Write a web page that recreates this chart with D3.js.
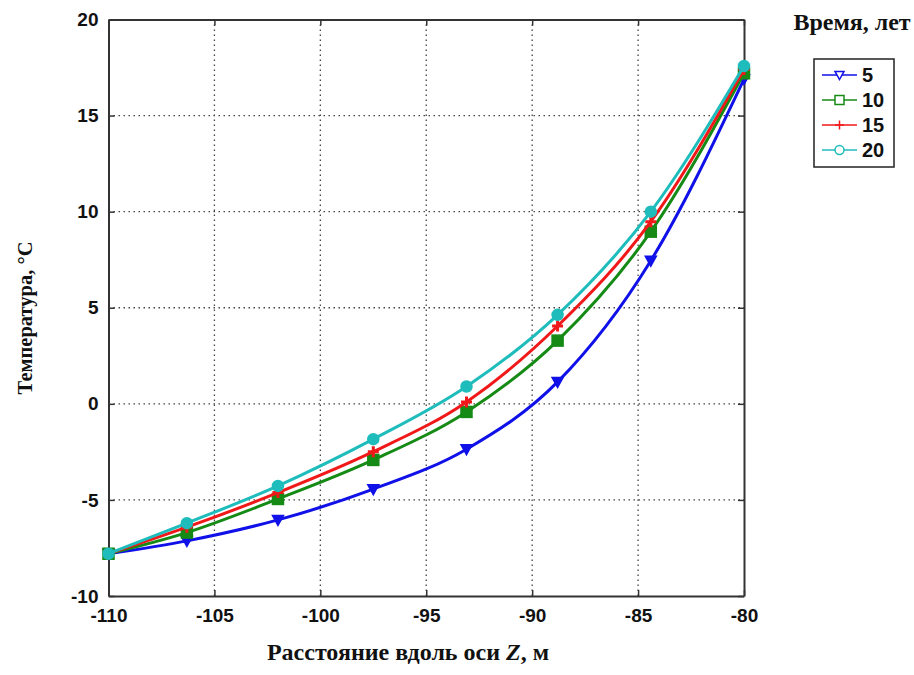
<!DOCTYPE html>
<html>
<head>
<meta charset="utf-8">
<script src="https://cdn.jsdelivr.net/npm/d3@7"></script>
<style>
  body { margin: 0; background: #fff; }
  svg { display: block; }
  .tick-lbl { font-family: "Liberation Sans", Arial, sans-serif; font-weight: bold; font-size: 19px; fill: #111; }
  .leg-lbl { font-family: "Liberation Sans", Arial, sans-serif; font-weight: bold; font-size: 20px; fill: #111; }
  .title { font-family: "Liberation Serif", "Times New Roman", serif; font-weight: bold; font-size: 24px; fill: #111; }
</style>
</head>
<body>
<div id="main"></div>
<script>
// distance along Z axis, m
const zValues = [-110, -106.3, -102, -97.5, -93.1, -88.8, -84.4, -80];
// time, years
const years = ['5', '10', '15', '20'];
const temp5  = [-7.8, -7.13, -6.04, -4.44, -2.36, 1.14, 7.45, 16.9];
const temp10 = [-7.8, -6.7, -4.95, -2.92, -0.42, 3.29, 8.96, 17.2];
const temp15 = [-7.8, -6.42, -4.62, -2.49, 0.1, 4.05, 9.48, 17.4];
const temp20 = [-7.8, -6.21, -4.27, -1.84, 0.9, 4.63, 10.0, 17.58];
const xTicks = [-110, -105, -100, -95, -90, -85, -80];
const yTicks = [-10, -5, 0, 5, 10, 15, 20];

const colors = ['#1010e8', '#158a15', '#f01818', '#1fbcbc'];
const symbols = ['triangle', 'square', 'plus', 'circle'];
const series = [temp5, temp10, temp15, temp20];

const width = 914, height = 675;
const margin = { left: 108.5, top: 19.5, right: 914 - 744, bottom: 675 - 596 };

const svg = d3.select('#main').append('svg')
  .attr('width', width)
  .attr('height', height);

const x = d3.scaleLinear().domain([-110, -80]).range([margin.left, width - margin.right]);
const y = d3.scaleLinear().domain([-10, 20]).range([height - margin.bottom, margin.top]);

// grid
const grid = svg.append('g');
grid.selectAll('.vgrid')
  .data(xTicks.slice(1, -1))
  .join('line')
    .attr('x1', d => x(d)).attr('x2', d => x(d))
    .attr('y1', y(20)).attr('y2', y(-10))
    .attr('stroke', '#444')
    .attr('stroke-width', 1.3)
    .attr('stroke-dasharray', '1.5,3.5');
grid.selectAll('.hgrid')
  .data(yTicks.slice(1, -1))
  .join('line')
    .attr('y1', d => y(d)).attr('y2', d => y(d))
    .attr('x1', x(-110)).attr('x2', x(-80))
    .attr('stroke', '#444')
    .attr('stroke-width', 1.3)
    .attr('stroke-dasharray', '1.5,3.5');

// axes (ticks inside)
const xAxis = svg.append('g')
  .attr('transform', `translate(0,${y(-10)})`)
  .call(d3.axisBottom(x).tickValues(xTicks).tickSizeInner(-6).tickSizeOuter(0).tickPadding(13));
const yAxis = svg.append('g')
  .attr('transform', `translate(${x(-110)},0)`)
  .call(d3.axisLeft(y).tickValues(yTicks).tickSizeInner(-6).tickSizeOuter(0).tickPadding(10));
svg.append('g')
  .attr('transform', `translate(0,${y(20)})`)
  .call(d3.axisTop(x).tickValues(xTicks).tickSizeInner(-6).tickSizeOuter(0).tickFormat(''));
svg.append('g')
  .attr('transform', `translate(${x(-80)},0)`)
  .call(d3.axisRight(y).tickValues(yTicks).tickSizeInner(-6).tickSizeOuter(0).tickFormat(''));
svg.selectAll('.domain').attr('stroke', '#333').attr('stroke-width', 2);
svg.selectAll('.tick line').attr('stroke', '#333').attr('stroke-width', 1.5);
[xAxis, yAxis].forEach(ax => {
  ax.attr('font-size', null).attr('font-family', null);
  ax.selectAll('text').attr('class', 'tick-lbl').text(d => d);
});

// lines
const line = d3.line()
  .x((d, i) => x(zValues[i]))
  .y(d => y(d))
  .curve(d3.curveMonotoneX);

function drawMarker(g, kind, cx, cy, color, size, filled) {
  const fill = filled ? color : '#fff';
  if (kind === 'triangle') {
    g.append('path')
      .attr('d', `M${cx - size},${cy - size * 0.8} L${cx + size},${cy - size * 0.8} L${cx},${cy + size} Z`)
      .attr('fill', fill).attr('stroke', color).attr('stroke-width', 1.5);
  } else if (kind === 'square') {
    g.append('rect')
      .attr('x', cx - size).attr('y', cy - size)
      .attr('width', size * 2).attr('height', size * 2)
      .attr('fill', fill).attr('stroke', color).attr('stroke-width', 1.5);
  } else if (kind === 'plus') {
    g.append('path')
      .attr('d', `M${cx - size},${cy} L${cx + size},${cy} M${cx},${cy - size} L${cx},${cy + size}`)
      .attr('stroke', color).attr('stroke-width', filled ? 3 : 1.5);
  } else {
    g.append('circle')
      .attr('cx', cx).attr('cy', cy).attr('r', size)
      .attr('fill', fill).attr('stroke', color).attr('stroke-width', 1.5);
  }
}

const plot = svg.append('g');
series.forEach((s, k) => {
  plot.append('path')
    .datum(s)
    .attr('d', line)
    .attr('fill', 'none')
    .attr('stroke', colors[k])
    .attr('stroke-width', 3);
  const mg = plot.append('g');
  s.forEach((v, i) => drawMarker(mg, symbols[k], x(zValues[i]), y(v), colors[k], 5.5, true));
});

// axis titles
svg.append('text')
  .attr('class', 'title')
  .attr('x', 408).attr('y', 660)
  .attr('text-anchor', 'middle')
  .html('Расстояние вдоль оси <tspan font-style="italic">Z</tspan>, м');
svg.append('text')
  .attr('class', 'title')
  .style('font-size', '20.5px')
  .attr('transform', 'translate(32,318) rotate(-90)')
  .attr('text-anchor', 'middle')
  .text('Температура, °C');

// legend
svg.append('text')
  .attr('class', 'title')
  .attr('x', 852).attr('y', 30)
  .attr('text-anchor', 'middle')
  .text('Время, лет');
svg.append('rect')
  .attr('x', 814).attr('y', 59)
  .attr('width', 80).attr('height', 108)
  .attr('fill', '#fff')
  .attr('stroke', '#222')
  .attr('stroke-width', 1.5);
const leg = svg.append('g');
years.forEach((yr, k) => {
  const ly = 75 + k * 25;
  leg.append('line')
    .attr('x1', 822).attr('x2', 857)
    .attr('y1', ly).attr('y2', ly)
    .attr('stroke', colors[k]).attr('stroke-width', 1.5);
  drawMarker(leg, symbols[k], 839.5, ly, colors[k], 4.5, false);
  leg.append('text')
    .attr('class', 'leg-lbl')
    .attr('x', 862).attr('y', ly + 7)
    .text(yr);
});
</script>
</body>
</html>
